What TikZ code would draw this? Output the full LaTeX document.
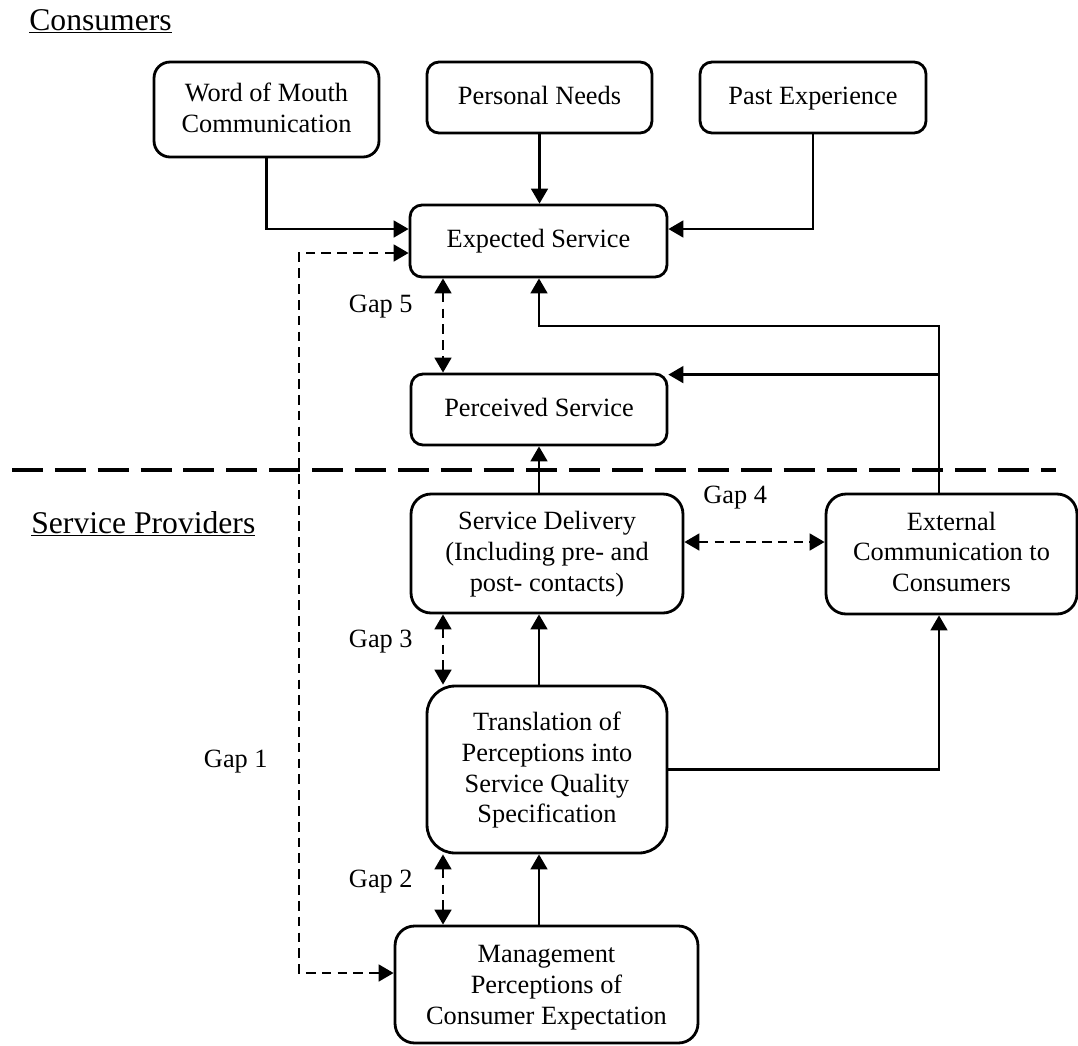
\documentclass[tikz,border=0pt]{standalone}
\usepackage{fontspec}
\setmainfont{Liberation Serif}
\usetikzlibrary{arrows.meta,calc}

\begin{document}
\begin{tikzpicture}[x=0.02cm, y=-0.02cm,
    box/.style={draw, line width=1.6pt, align=center, inner sep=0pt, font=\fontsize{15}{17.6}\selectfont, text depth=0.25em},
    conn/.style={line width=1.4pt, -{Triangle[length=8.5pt,width=9.5pt]}},
    gapline/.style={line width=1.4pt, dash pattern=on 5.5pt off 3.5pt, {Triangle[length=8.5pt,width=9.5pt]}-{Triangle[length=8.5pt,width=9.5pt]}},
    gaplabel/.style={font=\fontsize{15}{17.6}\selectfont, inner sep=0pt},
    side/.style={font=\fontsize{18}{21.6}\selectfont, inner sep=0pt, anchor=base west}]
  \useasboundingbox (0,0) rectangle (1078,1045);
  \node[side] (consumers) at (29,30) {\underline{Consumers}};
  \node[side] (providers) at (31,533) {\underline{Service Providers}};
  \node[box, minimum width=4.5cm, minimum height=1.9cm, rounded corners=0.32cm] (wom) at (266.5,109.5) {Word of Mouth\\Communication};
  \node[box, minimum width=4.5cm, minimum height=1.42cm, rounded corners=0.24cm] (needs) at (539.5,97.5) {Personal Needs};
  \node[box, minimum width=4.52cm, minimum height=1.42cm, rounded corners=0.24cm] (past) at (813,97.5) {Past Experience};
  \node[box, minimum width=5.14cm, minimum height=1.44cm, rounded corners=0.24cm] (expected) at (538.5,241) {Expected Service};
  \node[box, minimum width=5.12cm, minimum height=1.42cm, rounded corners=0.24cm] (perceived) at (539,409.5) {Perceived Service};
  \node[box, minimum width=5.44cm, minimum height=2.38cm, rounded corners=0.4cm] (delivery) at (547,553.5) {Service Delivery\\(Including pre- and\\post- contacts)};
  \node[box, minimum width=5.02cm, minimum height=2.4cm, rounded corners=0.4cm] (external) at (951.5,554) {External\\Communication to\\Consumers};
  \node[box, minimum width=4.8cm, minimum height=3.34cm, rounded corners=0.56cm] (transl) at (547,769.5) {Translation of\\Perceptions into\\Service Quality\\Specification};
  \node[box, minimum width=6.06cm, minimum height=2.34cm, rounded corners=0.39cm, text depth=0pt] (mgmt) at (546.5,984.5) {Management\\Perceptions of\\Consumer Expectation};
  \node[gaplabel, anchor=base east] (gapfive) at (413,312) {Gap 5};
  \node[gaplabel, anchor=base west] (gapfour) at (703,503) {Gap 4};
  \node[gaplabel, anchor=base east] (gapthree) at (413,647) {Gap 3};
  \node[gaplabel, anchor=base east] (gaptwo) at (413,887) {Gap 2};
  \node[gaplabel, anchor=base east] (gapone) at (268,767) {Gap 1};
  \draw[line width=2.4pt, dash pattern=on 17.6pt off 6.8pt] (12,470) -- (1056,470);
  \coordinate (gapx) at (443,0);
  \coordinate (extx) at (939,0);
  \coordinate (gonex) at (299,600);
  \coordinate (bend) at (539,326);
  \draw[conn] (wom.south) |- ($(expected.west)+(0,-12)$);
  \draw[conn] (needs.south) -- (needs.south |- expected.north);
  \draw[conn] (past.south) |- ($(expected.east)+(0,-12)$);
  \draw[conn] (external.north -| extx) |- (bend) -- (bend |- expected.south);
  \draw[conn] ($(extx |- perceived.north)+(0,2)$) -- ($(perceived.north east)+(0,2)$);
  \draw[conn] (delivery.north -| bend) -- (perceived.south -| bend);
  \draw[conn] (transl.north -| bend) -- (delivery.south -| bend);
  \draw[conn] (mgmt.north -| bend) -- (transl.south -| bend);
  \draw[conn] (transl.east) -| (external.south -| extx);
  \draw[gapline] ($(expected.west)+(0,12)$) -| (gonex) |- ($(mgmt.west)+(0,-11.5)$);
  \draw[gapline] (expected.south -| gapx) -- (perceived.north -| gapx);
  \draw[gapline] (delivery.south -| gapx) -- (transl.north -| gapx);
  \draw[gapline] (transl.south -| gapx) -- (mgmt.north -| gapx);
  \draw[gapline] ($(delivery.east)+(0,-11.5)$) -- ($(external.west)+(0,-12)$);
\end{tikzpicture}
\end{document}
